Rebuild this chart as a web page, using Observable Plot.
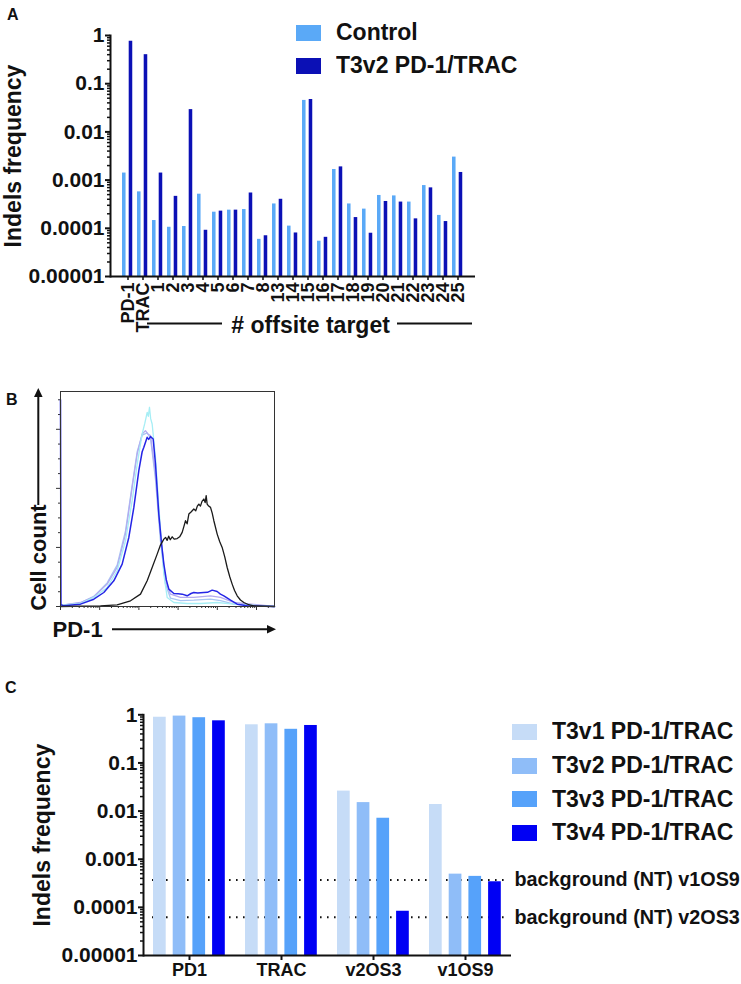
<!DOCTYPE html>
<html><head><meta charset="utf-8">
<script src="https://cdn.jsdelivr.net/npm/d3@7"></script>
<script src="https://cdn.jsdelivr.net/npm/@observablehq/plot@0.6"></script>
<style>
body{margin:0;background:#fff;}
#root{position:relative;width:741px;height:984px;overflow:hidden;font-family:"Liberation Sans",Arial,Helvetica,sans-serif;color:#111;}
#root > svg, #root > div, #root > figure{position:absolute;margin:0;}
.plabel{position:absolute;font-weight:bold;font-size:16px;line-height:16px;}
.legA-swatch,.legC-swatch{display:flex!important;align-items:center;margin:0!important;padding:0!important;}
.legA-swatch{height:33px;}
.legC-swatch{height:33.7px;}
.legA-swatch svg,.legC-swatch svg{margin-right:15px!important;}
.legA-label,.legC-label{overflow:visible!important;max-width:none!important;white-space:nowrap;}
</style></head><body><div id="root"></div>
<script>
const FONT = '"Liberation Sans", Arial, Helvetica, sans-serif';

// ---------- Panel A data ----------
const aCategories = ["PD-1","TRAC","1","2","3","4","5","6","7","8","13","14","15","16","17","18","19","20","21","22","23","24","25"];
const aSeries = ["Control","T3v2 PD-1/TRAC"];
const aControl = [0.0014,0.00057,0.000145,0.000105,0.000109,0.00051,0.000216,0.000238,0.000245,0.000059,0.00032,0.000111,0.045,0.000054,0.00166,0.00032,0.00025,0.00048,0.00047,0.00035,0.00077,0.000185,0.0030];
const aT3v2 = [0.76,0.40,0.0014,0.00046,0.029,0.000091,0.000227,0.000238,0.00054,0.000070,0.00040,0.000080,0.047,0.000065,0.00188,0.000167,0.000079,0.00036,0.00035,0.000157,0.00069,0.000138,0.00144];
const aColors = ["#5aa9f7","#0b10b5"];

const yTicks = [1,0.1,0.01,0.001,0.0001,0.00001];
const yTickLabels = ["1","0.1","0.01","0.001","0.0001","0.00001"];

// ---------- Panel B data (x: decades of PD-1 fluorescence, y: cell count) ----------
const bBlack = [[0,0],[1.02,1],[1.445,2.8],[1.786,9.6],[2.041,20.9],[2.211,43.5],[2.338,66],[2.466,88.7],[2.55,104],[2.636,114],[2.68,117],[2.721,112],[2.76,119],[2.8,113],[2.849,118],[2.9,114],[2.976,115],[3.04,118],[3.104,125.4],[3.15,136],[3.189,145.2],[3.23,140],[3.274,156.5],[3.33,160],[3.401,165],[3.45,162],[3.49,170],[3.529,173.4],[3.57,170],[3.61,178],[3.656,181.9],[3.69,176],[3.716,187.6],[3.741,173.4],[3.78,170],[3.827,167.8],[3.87,158],[3.912,145.2],[3.997,122.6],[4.06,110],[4.124,100],[4.19,84],[4.252,66],[4.32,50],[4.379,37.9],[4.44,27],[4.507,18.1],[4.59,11],[4.677,6.8],[4.8,3],[4.932,1.1],[5.459,0]];
const bT3v4 = [[0,350],[0.012,3],[0.085,1.1],[0.51,4],[0.85,12.4],[1.105,23.7],[1.36,43.5],[1.573,71.8],[1.743,116.9],[1.871,167.8],[1.998,229.9],[2.083,262],[2.126,269.5],[2.211,286.4],[2.25,283],[2.296,287.6],[2.364,283.6],[2.423,241.2],[2.508,156.5],[2.58,105],[2.636,71.8],[2.7,45],[2.764,29.4],[2.891,22],[3.0,21.5],[3.104,20.9],[3.231,18.1],[3.33,22],[3.401,23.7],[3.5,23],[3.656,23.7],[3.75,24],[3.869,27.7],[3.997,25.4],[4.08,21],[4.167,18.1],[4.337,10.7],[4.507,4],[4.762,1.1],[5.459,0]];
const bT3v1 = [[0,2],[0.51,5.1],[0.85,15.3],[1.19,32.2],[1.445,60.5],[1.658,111.3],[1.828,179.1],[1.956,241.2],[2.083,292.1],[2.15,310],[2.211,328.8],[2.24,322],[2.27,337.3],[2.3,318],[2.338,309],[2.423,252.5],[2.534,145.2],[2.636,54.8],[2.721,15.3],[2.891,6.8],[3.231,5.1],[3.571,5.1],[3.997,6.8],[4.422,4],[5.459,0]];
const bT3v2 = [[0,2],[0.51,6.8],[0.85,16.4],[1.19,37.9],[1.445,66.1],[1.658,122.6],[1.828,201.7],[1.956,258.2],[2.083,292.1],[2.168,297.7],[2.23,292],[2.296,289.3],[2.423,224.3],[2.551,122.6],[2.679,43.5],[2.806,20.9],[3.061,15.3],[3.401,15.3],[3.827,18.1],[4.082,15.3],[4.422,6.8],[5.459,0]];
const bT3v3 = [[0,2],[0.51,6],[0.85,17],[1.19,40],[1.445,70],[1.658,128],[1.828,205],[1.956,262],[2.083,290],[2.211,294],[2.296,285],[2.423,215],[2.551,110],[2.679,38],[2.806,14],[3.061,10],[3.401,10.7],[3.827,12.4],[4.082,10],[4.422,4],[5.459,0]];

// ---------- Panel C data ----------
const cGroups = ["PD1","TRAC","v2OS3","v1OS9"];
const cSeries = ["T3v1 PD-1/TRAC","T3v2 PD-1/TRAC","T3v3 PD-1/TRAC","T3v4 PD-1/TRAC"];
const cT3v1 = [0.89,0.62,0.026,0.0137];
const cT3v2 = [0.94,0.65,0.015,0.00049];
const cT3v3 = [0.87,0.50,0.0071,0.00044];
const cT3v4 = [0.75,0.60,0.000083,0.00034];
const cBackgroundLabels = ["background (NT) v1OS9","background (NT) v2OS3"];
const cBackground = [0.00037,0.000062];
const cColors = ["#c6dcf7","#8fbdf8","#56a2fa","#0000f4"];

// ---------- helpers ----------
const minorTicks = [];
for (let e = -5; e < 0; e++) for (let k = 2; k < 10; k++) minorTicks.push(k * Math.pow(10, e));
const fmtY = d => yTickLabels[yTicks.findIndex(t => Math.abs(Math.log10(t) - Math.log10(d)) < 1e-6)] ?? "";

const root = document.getElementById("root");
function place(el, left, top) { el.style.left = left + "px"; el.style.top = top + "px"; root.appendChild(el); return el; }
function label(t, left, top) { const d = document.createElement("div"); d.className = "plabel"; d.textContent = t; place(d, left, top); }

// ---------- Panel A ----------
const aRows = aCategories.flatMap((c, i) => [
  {cat: c, series: aSeries[0], v: aControl[i]},
  {cat: c, series: aSeries[1], v: aT3v2[i]}
]);
const plotA = Plot.plot({
  width: 480, height: 340,
  marginLeft: 110, marginRight: 5, marginTop: 35, marginBottom: 64,
  style: {fontFamily: FONT, fontWeight: "bold", color: "#111", background: "transparent", overflow: "visible"},
  x: {domain: aCategories, padding: 0},
  y: {type: "log", domain: [1e-5, 1]},
  marks: [
    Plot.barY(aRows.filter(d => d.series === aSeries[0]), {x: "cat", y1: 1e-5, y2: "v", fill: aColors[0], insetLeft: 2, insetRight: 9.45}),
    Plot.barY(aRows.filter(d => d.series === aSeries[1]), {x: "cat", y1: 1e-5, y2: "v", fill: aColors[1], insetLeft: 8.7, insetRight: 2.75}),
    Plot.axisY({ticks: minorTicks, tickSize: 3, tickFormat: () => "", strokeWidth: 1.5, label: null}),
    Plot.axisY({ticks: yTicks, tickSize: 5, tickPadding: 1, tickFormat: fmtY, fontSize: 21, strokeWidth: 2, label: null}),
    Plot.axisX({tickRotate: -90, tickSize: 4, tickPadding: 2, fontSize: 18, strokeWidth: 1.5, label: null}),
    Plot.frame({anchor: "left", strokeWidth: 2, stroke: "#111"}),
    Plot.ruleY([1e-5], {strokeWidth: 2, stroke: "#111"}),
    Plot.text(["Indels frequency"], {text: d => d, frameAnchor: "left", textAnchor: "middle", lineAnchor: "middle", rotate: -90, dx: -97, fontSize: 23}),
    Plot.text(["# offsite target"], {text: d => d, frameAnchor: "bottom", textAnchor: "middle", lineAnchor: "middle", dx: 17.6, dy: 49, fontSize: 23})
  ]
});
const sA = d3.select(plotA);
sA.append("line").attr("x1", 147).attr("x2", 222).attr("y1", 323.5).attr("y2", 323.5).attr("stroke", "#111").attr("stroke-width", 2);
sA.append("line").attr("x1", 397).attr("x2", 472).attr("y1", 323.5).attr("y2", 323.5).attr("stroke", "#111").attr("stroke-width", 2);
place(plotA, 0, 0);

const legA = Plot.legend({
  legend: "swatches", color: {domain: aSeries, range: aColors}, columns: 1,
  swatchWidth: 25, swatchHeight: 16, className: "legA",
  style: {fontFamily: FONT, fontSize: "23px", fontWeight: "bold", color: "#111"}
});
place(legA, 296, 16);

// ---------- Panel B ----------
const bMajorX = [0,1,2,3,4,5];
const bMinorX = [];
for (let d = 0; d < 6; d++) for (let k = 2; k < 10; k++) { const v = d + Math.log10(k); if (v < 5.45) bMinorX.push(v); }
const line = (data, stroke, w) => Plot.line(data, {x: d => d[0], y: d => d[1], stroke, strokeWidth: w});
const plotB = Plot.plot({
  width: 300, height: 270,
  marginLeft: 60, marginRight: 26, marginTop: 11, marginBottom: 44,
  style: {fontFamily: FONT, fontWeight: "bold", color: "#111", background: "transparent", overflow: "visible"},
  x: {domain: [0, 5.459]},
  y: {domain: [0, 364]},
  marks: [
    Plot.axisX({ticks: bMinorX, tickSize: 2, tickFormat: () => "", label: null, stroke: "#333"}),
    Plot.axisX({ticks: bMajorX, tickSize: 4, tickFormat: () => "", label: null, stroke: "#333"}),
    Plot.axisY({ticks: [25,50,75,125,150,175,225,250,275,325,350], tickSize: 2, tickFormat: () => "", label: null, stroke: "#333"}),
    Plot.axisY({ticks: [0,100,200,300], tickSize: 4, tickFormat: () => "", label: null, stroke: "#333"}),
    line(bT3v3, "#a9c6f2", 1.3),
    line(bT3v2, "#b3aaf0", 1.3),
    line(bT3v1, "#a6eef5", 1.3),
    line(bT3v4, "#2525e6", 1.5),
    line(bBlack, "#1a1a1a", 1.3),
    Plot.frame({stroke: "#333", strokeWidth: 1}),
    Plot.text(["Cell count"], {text: d => d, frameAnchor: "left", textAnchor: "middle", lineAnchor: "middle", rotate: -90, dx: -22, dy: 58.5, fontSize: 22}),
    Plot.text(["PD-1"], {text: d => d, frameAnchor: "bottom-left", textAnchor: "start", lineAnchor: "middle", dx: -8, dy: 23, fontSize: 22})
  ]
});
const sB = d3.select(plotB);
sB.append("line").attr("x1", 38.3).attr("x2", 38.3).attr("y1", 125).attr("y2", 16).attr("stroke", "#111").attr("stroke-width", 2);
sB.append("path").attr("d", "M38.3,8 L34,17 L42.6,17 Z").attr("fill", "#111");
sB.append("line").attr("x1", 112).attr("x2", 268).attr("y1", 249.3).attr("y2", 249.3).attr("stroke", "#111").attr("stroke-width", 2);
sB.append("path").attr("d", "M276,249.3 L267,245 L267,253.6 Z").attr("fill", "#111");
place(plotB, 0, 380);

// ---------- Panel C ----------
const cValues = [cT3v1, cT3v2, cT3v3, cT3v4];
const cStep = 92, cBarW = 12.7, cBarStep = 19.7, cOff = 10;
const cBars = cSeries.map((s, i) => Plot.barY(
  cGroups.map((g, j) => ({group: g, series: s, v: cValues[i][j]})),
  {x: "group", y1: 1e-5, y2: "v", fill: cColors[i],
   insetLeft: cOff + i * cBarStep, insetRight: cStep - cBarW - (cOff + i * cBarStep)}
));
const cBgRows = cBackground.map((v, i) => ({v, label: cBackgroundLabels[i]}));
const plotC = Plot.plot({
  width: 741, height: 314,
  marginLeft: 143, marginRight: 230, marginTop: 44.3, marginBottom: 29,
  style: {fontFamily: FONT, fontWeight: "bold", color: "#111", background: "transparent", overflow: "visible"},
  x: {domain: cGroups, padding: 0},
  y: {type: "log", domain: [1e-5, 1]},
  marks: [
    Plot.ruleY(cBgRows, {y: "v", stroke: "#111", strokeWidth: 2, strokeDasharray: "1.6 5.4", insetLeft: 9, insetRight: 3}),
    ...cBars,
    Plot.axisY({ticks: minorTicks, tickSize: 3, tickFormat: () => "", strokeWidth: 1.5, label: null}),
    Plot.axisY({ticks: yTicks, tickSize: 5, tickPadding: 1, tickFormat: fmtY, fontSize: 21, strokeWidth: 2, label: null}),
    Plot.axisX({tickSize: 5, tickPadding: 3, fontSize: 18, strokeWidth: 2, label: null}),
    Plot.frame({anchor: "left", strokeWidth: 2, stroke: "#111"}),
    Plot.ruleY([1e-5], {strokeWidth: 2, stroke: "#111"}),
    Plot.text(cBgRows, {y: "v", text: "label", frameAnchor: "right", textAnchor: "start", dx: 3, fontSize: 19.8}),
    Plot.text(["Indels frequency"], {text: d => d, frameAnchor: "left", textAnchor: "middle", lineAnchor: "middle", rotate: -90, dx: -101, fontSize: 23})
  ]
});
place(plotC, 0, 670);

const legC = Plot.legend({
  legend: "swatches", color: {domain: cSeries, range: cColors}, columns: 1,
  swatchWidth: 25, swatchHeight: 16, className: "legC",
  style: {fontFamily: FONT, fontSize: "23px", fontWeight: "bold", color: "#111"}
});
place(legC, 512, 715);

label("A", 7, 6.5);
label("B", 6, 392);
label("C", 5, 679.5);
</script>
</body></html>
